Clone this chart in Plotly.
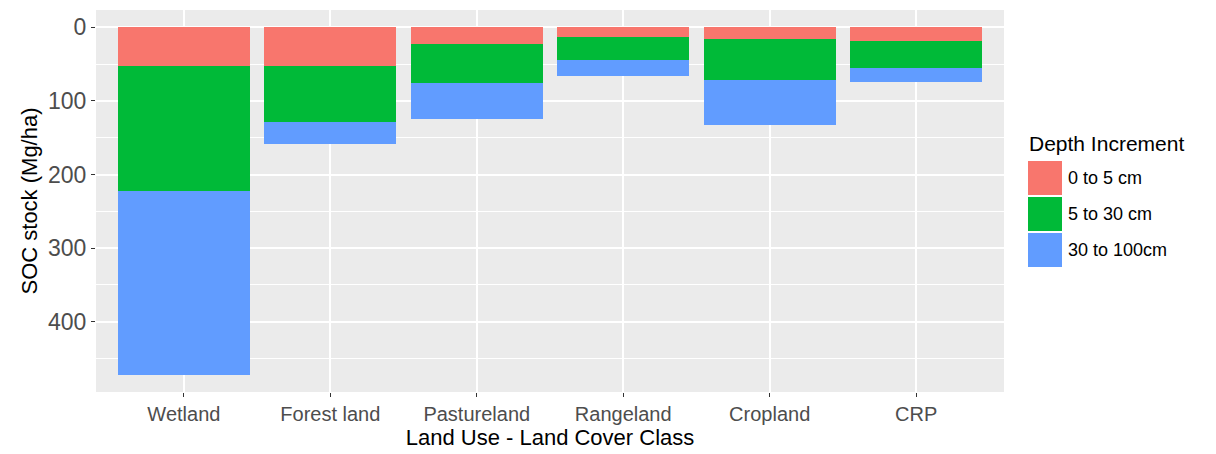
import plotly.graph_objects as go

categories = ["Wetland", "Forest land", "Pastureland", "Rangeland", "Cropland", "CRP"]
depth_0_5 = [53, 53, 22, 13, 16, 18]
depth_5_30 = [170, 76, 53, 31, 56, 37]
depth_30_100 = [249, 29, 50, 22, 61, 19]
series_names = ["0 to 5 cm", "5 to 30 cm", "30 to 100cm"]
series_values = [depth_0_5, depth_5_30, depth_30_100]
series_colors = ["#F8766D", "#00BA38", "#619CFF"]

# page has an 8px body margin; work in page pixels and shift
OFF = 8
W, H = 1216 - OFF, 454 - OFF
L, R, T, B = 96, 1004, 10, 392  # page pixel positions of the panel

fig = go.Figure()
for name, vals, col in zip(series_names, series_values, series_colors):
    fig.add_trace(go.Bar(x=categories, y=vals, name=name, marker=dict(color=col, line=dict(width=0)),
                         width=0.9, showlegend=False))

totals = [a + b + c for a, b, c in zip(depth_0_5, depth_5_30, depth_30_100)]
ymax = max(totals)
pad = 0.05 * ymax

fig.update_layout(
    barmode="stack",
    width=W, height=H,
    margin=dict(l=L - OFF, r=W - (R - OFF), t=T - OFF, b=H - (B - OFF), autoexpand=False),
    paper_bgcolor="white",
    plot_bgcolor="#EBEBEB",
    font=dict(family="Liberation Sans, Arial, sans-serif"),
    xaxis=dict(
        automargin=False,
        showgrid=True, gridcolor="white", gridwidth=1.5,
        ticks="outside", ticklen=4, tickcolor="#333333", tickwidth=1,
        tickfont=dict(size=20, color="#4D4D4D"),
        title=dict(text="Land Use - Land Cover Class", font=dict(size=22, color="black"), standoff=2),
        range=[-0.6, len(categories) - 0.4],
        zeroline=False,
    ),
    yaxis=dict(
        automargin=False,
        range=[ymax + pad, -pad],
        tickvals=[0, 100, 200, 300, 400],
        showgrid=True, gridcolor="white", gridwidth=1.5,
        minor=dict(dtick=50, tick0=0, showgrid=True, gridcolor="white", gridwidth=0.6),
        ticks="outside", ticklen=4, tickcolor="#333333", tickwidth=1,
        tickfont=dict(size=23, color="#4D4D4D"),
        title=dict(text="SOC stock (Mg/ha)", font=dict(size=22, color="black"), standoff=4),
        zeroline=False,
    ),
)

def px_x(p):
    return (p - L) / (R - L)

def px_y(p):
    return (B - p) / (B - T)

fig.add_annotation(x=px_x(1027), y=px_y(143), xref="paper", yref="paper", text="Depth Increment",
                   showarrow=False, xanchor="left", yanchor="middle",
                   font=dict(size=21, color="black"))
key_tops = [161, 197, 233]
for name, col, top in zip(series_names, series_colors, key_tops):
    fig.add_shape(type="rect", xref="paper", yref="paper",
                  x0=px_x(1028), x1=px_x(1062), y0=px_y(top + 34), y1=px_y(top),
                  fillcolor=col, line=dict(width=0))
    fig.add_annotation(x=px_x(1066), y=px_y(top + 17), xref="paper", yref="paper", text=name,
                       showarrow=False, xanchor="left", yanchor="middle",
                       font=dict(size=18, color="black"))

fig.write_html("out.html")
